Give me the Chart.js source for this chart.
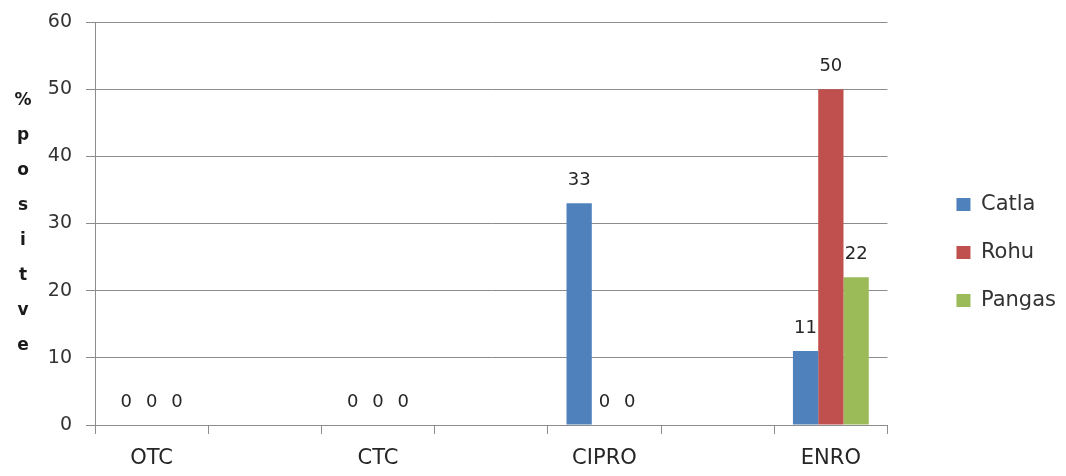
<!DOCTYPE html>
<html>
<head>
<meta charset="utf-8">
<script src="https://cdn.jsdelivr.net/npm/chart.js@4"></script>
<style>
  body { margin: 0; background: #fff; }
  #wrap { width: 1066px; height: 476px; position: relative; }
</style>
</head>
<body>
<div id="wrap"><canvas id="chart"></canvas></div>
<script>
const drugs = ['OTC', 'CTC', 'CIPRO', 'ENRO'];
const catla = [0, 0, 33, 11];
const rohu = [0, 0, 0, 50];
const pangas = [0, 0, 0, 22];
const yTicks = [0, 10, 20, 30, 40, 50, 60];
const yTitle = '%positve';

// the original leaves an empty slot between each drug
const slots = arr => arr.flatMap((v, i) => i < arr.length - 1 ? [v, null] : [v]);
const labels = slots(drugs).map(d => d === null ? '' : d);

const colors = { catla: '#4F81BD', rohu: '#C0504D', pangas: '#9BBB59' };
const gridColor = '#8c8c8c';

Chart.defaults.font.family = 'DejaVu Sans';
Chart.defaults.color = '#404040';

// value labels above every bar
const valueLabels = {
    id: 'valueLabels',
    afterDatasetsDraw(chart) {
        const ctx = chart.ctx;
        ctx.save();
        ctx.font = '18px "DejaVu Sans"';
        ctx.fillStyle = '#262626';
        ctx.textAlign = 'center';
        ctx.textBaseline = 'middle';
        chart.data.datasets.forEach((ds, i) => {
            chart.getDatasetMeta(i).data.forEach((bar, j) => {
                const v = ds.data[j];
                if (v === null) return;
                ctx.fillText(String(v), bar.x, bar.y - 23);
            });
        });
        ctx.restore();
    }
};

// stacked letters of the y axis title
const stackedTitle = {
    id: 'stackedTitle',
    afterDraw(chart) {
        const ctx = chart.ctx;
        ctx.save();
        ctx.font = 'bold 17px "DejaVu Sans"';
        ctx.fillStyle = '#1a1a1a';
        ctx.textAlign = 'center';
        ctx.textBaseline = 'middle';
        yTitle.split('').forEach((ch, i) => ctx.fillText(ch, 23, 101 + i * 35));
        ctx.restore();
    }
};

new Chart(document.getElementById('chart').getContext('2d'), {
    type: 'bar',
    data: {
        labels: labels,
        datasets: [
            { label: 'Catla', data: slots(catla), backgroundColor: colors.catla },
            { label: 'Rohu', data: slots(rohu), backgroundColor: colors.rohu },
            { label: 'Pangas', data: slots(pangas), backgroundColor: colors.pangas }
        ]
    },
    options: {
        responsive: true,
        maintainAspectRatio: false,
        animation: false,
        categoryPercentage: 0.67,
        barPercentage: 1,
        layout: { padding: { top: 22, right: 0, bottom: 0, left: 0 } },
        plugins: {
            legend: {
                position: 'right',
                // empty title only pushes the items down a little
                title: { display: true, text: '', font: { size: 4 }, padding: 1 },
                labels: {
                    boxWidth: 14,
                    boxHeight: 13,
                    padding: 27,
                    color: '#333',
                    font: { size: 21 }
                }
            },
            tooltip: { enabled: false }
        },
        scales: {
            x: {
                grid: { drawOnChartArea: false, color: gridColor, tickLength: 9, offset: true },
                border: { color: gridColor },
                ticks: { font: { size: 21 }, color: '#262626', padding: 12, autoSkip: false, maxRotation: 0 },
                afterFit: s => { s.height = 51; }
            },
            y: {
                min: 0,
                max: 60,
                afterBuildTicks: s => { s.ticks = yTicks.map(v => ({ value: v })); },
                grid: { color: gridColor, tickLength: 9 },
                border: { color: gridColor },
                ticks: { font: { size: 19 }, color: '#333', padding: 14 },
                afterFit: s => { s.width = 95; s.paddingTop = 0; s.paddingBottom = 0; }
            },
            gap: {
                position: 'right',
                display: true,
                grid: { display: false },
                border: { display: false },
                ticks: { display: false },
                afterFit: s => { s.width = 42; }
            }
        }
    },
    plugins: [valueLabels, stackedTitle]
});
</script>
</body>
</html>
